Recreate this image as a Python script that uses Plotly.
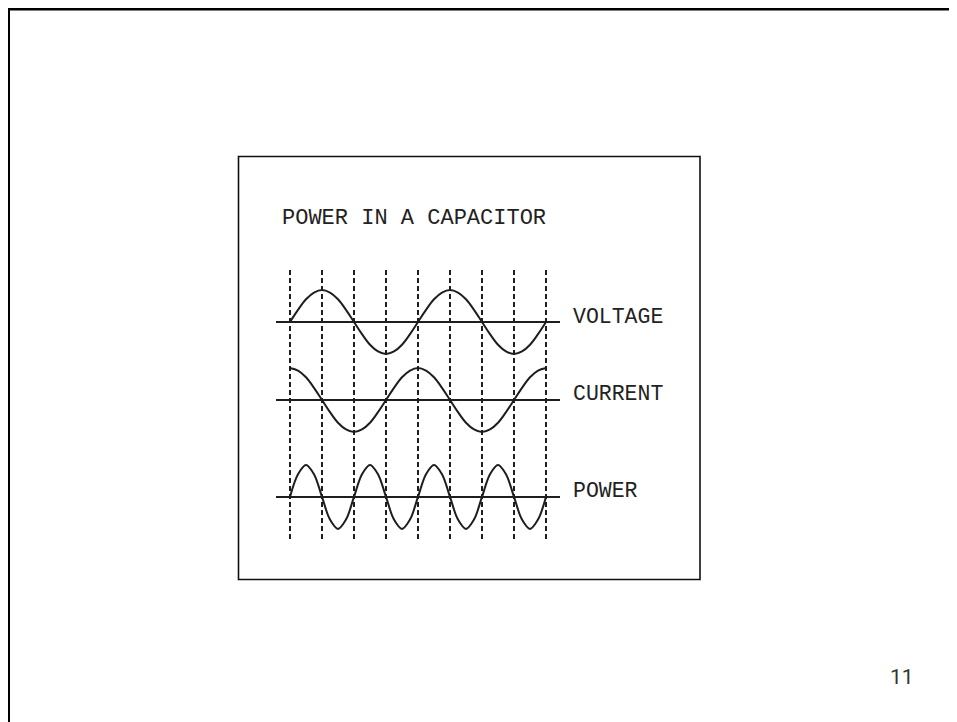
import plotly.graph_objects as go

# ---- data ----
phase_deg = [0, 22.5, 45, 67.5, 90, 112.5, 135, 157.5, 180, 202.5, 225, 247.5, 270,
             292.5, 315, 337.5, 360, 382.5, 405, 427.5, 450, 472.5, 495, 517.5, 540,
             562.5, 585, 607.5, 630, 652.5, 675, 697.5, 720]
voltage = [0, 0.38, 0.71, 0.92, 1, 0.92, 0.71, 0.38, 0, -0.38, -0.71, -0.92, -1, -0.92, -0.71, -0.38,
           0, 0.38, 0.71, 0.92, 1, 0.92, 0.71, 0.38, 0, -0.38, -0.71, -0.92, -1, -0.92, -0.71, -0.38, 0]
current = [1, 0.92, 0.71, 0.38, 0, -0.38, -0.71, -0.92, -1, -0.92, -0.71, -0.38, 0, 0.38, 0.71, 0.92,
           1, 0.92, 0.71, 0.38, 0, -0.38, -0.71, -0.92, -1, -0.92, -0.71, -0.38, 0, 0.38, 0.71, 0.92, 1]
power = [0, 0.71, 1, 0.71, 0, -0.71, -1, -0.71, 0, 0.71, 1, 0.71, 0, -0.71, -1, -0.71,
         0, 0.71, 1, 0.71, 0, -0.71, -1, -0.71, 0, 0.71, 1, 0.71, 0, -0.71, -1, -0.71, 0]
series_names = ["VOLTAGE", "CURRENT", "POWER"]
title_text = "POWER IN A CAPACITOR"
page_number = "11"

# ---- layout constants ----
PAGE_OFF = 8                      # browser body margin
W, H = 957 - PAGE_OFF, 722 - PAGE_OFF
INK = "#1e1e1e"
offsets = [-1.625, -4.0625, -7.09]          # baseline of each wave (y units)
label_y_px = [317, 394, 491]

def px_x(p):
    return (p - PAGE_OFF) / W

def px_y(p):
    return 1 - (p - PAGE_OFF) / H

fig = go.Figure()
for vals, off in zip([voltage, current, power], offsets):
    fig.add_trace(go.Scatter(
        x=phase_deg, y=[v + off for v in vals], mode="lines",
        line=dict(color=INK, width=2, shape="spline", smoothing=1.0),
        hoverinfo="skip", showlegend=False))

shapes = []
for off in offsets:
    shapes.append(dict(type="line", xref="x domain", yref="y", x0=0, x1=1, y0=off, y1=off,
                       line=dict(color=INK, width=2), layer="above"))
# inner framed box
shapes.append(dict(type="rect", xref="paper", yref="paper",
                   x0=px_x(238.5), x1=px_x(700), y0=px_y(156.5), y1=px_y(579.5),
                   line=dict(color="#111", width=1.6)))
# slide border (top and left)
shapes.append(dict(type="line", xref="paper", yref="paper",
                   x0=px_x(8.5), x1=1, y0=px_y(9), y1=px_y(9), line=dict(color="#000", width=3)))
shapes.append(dict(type="line", xref="paper", yref="paper",
                   x0=px_x(8.5), x1=px_x(8.5), y0=px_y(7.5), y1=0, line=dict(color="#000", width=3)))

annotations = [dict(text=title_text, xref="paper", yref="paper", x=px_x(414), y=px_y(218),
                    xanchor="center", yanchor="middle", showarrow=False,
                    font=dict(family="Liberation Mono, Courier New, monospace", size=22, color="#222"))]
for name, ly in zip(series_names, label_y_px):
    annotations.append(dict(text=name, xref="paper", yref="paper", x=px_x(571), y=px_y(ly),
                            xanchor="left", yanchor="middle", showarrow=False,
                            font=dict(family="Liberation Mono, Courier New, monospace", size=21.5, color="#222")))
annotations.append(dict(text=page_number, xref="paper", yref="paper", x=px_x(902), y=px_y(677),
                        xanchor="center", yanchor="middle", showarrow=False,
                        font=dict(family="Liberation Sans Narrow, Roboto, sans-serif", size=21, color="#333")))

x0_px, x1_px = 276, 560
deg_per_px = 720 / 256
fig.update_layout(
    width=W, height=H, margin=dict(l=0, r=0, t=0, b=0),
    paper_bgcolor="white", plot_bgcolor="white",
    xaxis=dict(domain=[px_x(x0_px), px_x(x1_px)],
               range=[(x0_px - 290) * deg_per_px, (x1_px - 290) * deg_per_px],
               showgrid=True, dtick=90, tick0=0, gridcolor=INK, gridwidth=2, griddash="5px,3px",
               zeroline=False, showticklabels=False, ticks="", showline=False, fixedrange=True),
    yaxis=dict(domain=[px_y(542), px_y(270)], range=[-8.5, 0],
               showgrid=False, zeroline=False, showticklabels=False, ticks="", showline=False,
               fixedrange=True),
    shapes=shapes, annotations=annotations, hovermode=False,
)

fig.write_html("out.html", config={"displayModeBar": False},
               post_script="document.documentElement.style.overflow='hidden';"
                           "document.body.style.overflow='hidden';")
